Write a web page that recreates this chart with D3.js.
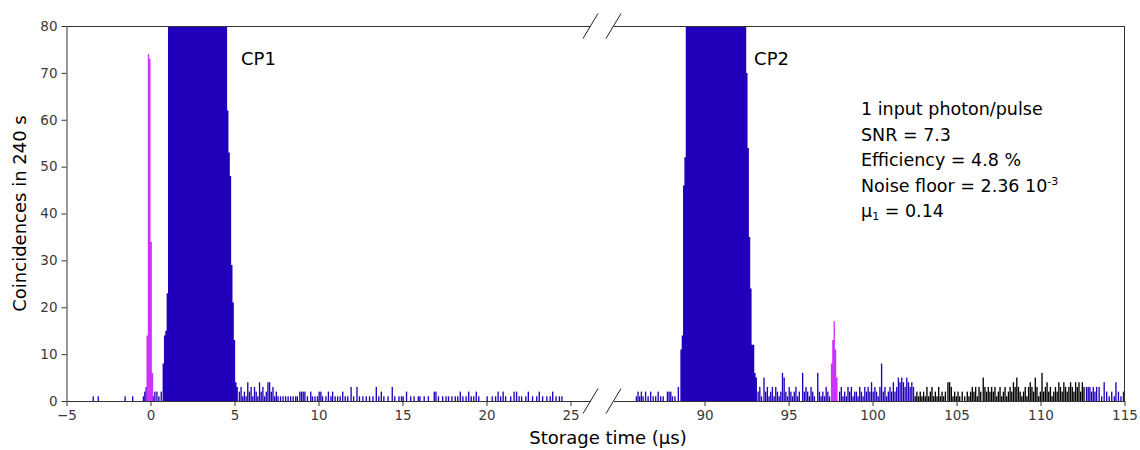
<!DOCTYPE html>
<html>
<head>
<script src="https://d3js.org/d3.v7.min.js"></script>
<style>
  body { margin: 0; background: #fff; }
  svg text { font-family: "DejaVu Sans", Verdana, sans-serif; }
  .axis text { font-size: 13.5px; fill: #3a3a3a; }
  .axis path, .axis line { stroke: #333; }
</style>
</head>
<body>
<div id="chart"></div>
<script>
// histogram bin width (μs)
const binWidth = 0.08;

// control pulse 1 (counts beyond 80 are clipped at the top of the plot)
const cp1Start = 0.72;
const cp1Counts = [8, 14, 15, 23,
  95, 130, 170, 210, 250, 290, 320, 350, 370, 390,
  400, 410, 415, 420, 420, 418, 415, 410, 405, 400,
  395, 390, 385, 380, 370, 360, 350, 340, 330, 315,
  300, 285, 270, 250, 230, 210, 190, 170, 150, 130,
  115, 100, 90, 84,
  62, 53, 48, 29, 21, 13, 4, 3];

// control pulse 2
const cp2Start = 88.56;
const cp2Counts = [11, 14, 46, 52,
  100, 140, 180, 220, 260, 290, 320, 340, 360, 375,
  385, 395, 400, 405, 410, 410, 408, 405, 400, 395,
  390, 385, 378, 370, 362, 352, 342, 330, 318, 305,
  290, 275, 258, 240, 222, 205, 188, 170, 152, 135,
  120, 107, 96, 88, 83,
  70, 54, 35, 24, 12, 12, 6, 5];

// input pulse (magenta) and retrieved echo
const inStart = -0.24;
const inCounts = [14, 74, 73, 34, 6];
const echoStart = 97.52;
const echoCounts = [8, 13, 17, 11, 5];

// isolated noise bins [time, counts], blue
const blueNoise = [
  [-3.45, 1], [-3.15, 1], [-1.55, 1], [-1.1, 1], [-0.46, 1], [-0.38, 2], [-0.3, 3], [-0.22, 2],
  [0.12, 1], [0.22, 2], [0.34, 2], [0.46, 1], [0.6, 2],
  [5.25, 2], [5.35, 3], [5.45, 1], [5.55, 2], [5.65, 1], [5.75, 4], [5.85, 2], [5.95, 3], [6.05, 1],
  [6.15, 3], [6.25, 2], [6.35, 1], [6.45, 4], [6.55, 2], [6.65, 3], [6.75, 1], [6.85, 2], [6.95, 4],
  [7.05, 4], [7.15, 2], [7.25, 3], [7.35, 1], [7.45, 2], [7.55, 1], [7.7, 1], [7.85, 1], [8.0, 1],
  [8.15, 1], [8.3, 1], [8.45, 1], [8.6, 1], [8.7, 1], [8.85, 2], [8.95, 2], [9.05, 2], [9.15, 2],
  [9.3, 1], [9.5, 2], [9.6, 1], [9.75, 1], [9.9, 1], [10.0, 2], [10.1, 2], [10.2, 1], [10.4, 1],
  [10.55, 2], [10.7, 1], [10.8, 2], [10.95, 1], [11.1, 1], [11.25, 1], [11.4, 2], [11.55, 1],
  [11.7, 1], [11.9, 3], [12.05, 1], [12.25, 3], [12.4, 1], [12.6, 1], [12.8, 1], [13.0, 1], [13.2, 1],
  [13.4, 3], [13.55, 1], [13.7, 2], [13.85, 1], [14.1, 1], [14.35, 3], [14.5, 1], [14.75, 1],
  [14.9, 1], [15.0, 1], [15.2, 2], [15.45, 1], [15.65, 1], [15.9, 1], [16.0, 1], [16.25, 1],
  [16.5, 1], [16.85, 2], [16.95, 2], [17.1, 1], [17.35, 1], [17.55, 1], [17.7, 1], [17.9, 1],
  [18.1, 1], [18.25, 1], [18.4, 2], [18.55, 1], [18.75, 1], [18.9, 2], [19.05, 1], [19.2, 1],
  [19.35, 2], [19.5, 1], [20.0, 1], [20.3, 1], [20.5, 1], [20.65, 2], [20.8, 1], [20.95, 2],
  [21.1, 1], [21.4, 1], [21.6, 2], [21.75, 2], [21.9, 1], [22.05, 1], [22.3, 1], [22.45, 2],
  [22.7, 1], [22.95, 1], [23.1, 2], [23.3, 1], [23.55, 1], [23.75, 1], [23.9, 2], [24.1, 1],
  [24.3, 1], [24.45, 1],
  [85.9, 1], [86.0, 2], [86.1, 1], [86.2, 2], [86.3, 1], [86.45, 2], [86.6, 1], [86.75, 2],
  [86.9, 1], [87.05, 1], [87.2, 2], [87.35, 1], [87.5, 1], [87.75, 2], [87.85, 2], [87.95, 2],
  [88.05, 1], [88.2, 1], [88.4, 3],
  [93.15, 2], [93.25, 3], [93.35, 1], [93.5, 5], [93.6, 2], [93.7, 3], [93.8, 1], [93.9, 2],
  [94.0, 3], [94.1, 1], [94.2, 3], [94.3, 2], [94.4, 1], [94.5, 2], [94.6, 6], [94.7, 5], [94.8, 2],
  [94.9, 1], [95.0, 3], [95.1, 2], [95.2, 1], [95.3, 2], [95.4, 3], [95.5, 1], [95.6, 2], [95.8, 6],
  [95.9, 2], [96.0, 3], [96.1, 2], [96.2, 1], [96.3, 3], [96.4, 2], [96.5, 1], [96.7, 6], [96.8, 2],
  [96.9, 1], [97.0, 2], [97.1, 1], [97.2, 3], [97.3, 2], [97.4, 1],
  [98.0, 2], [98.1, 3], [98.2, 1], [98.3, 2], [98.4, 1], [98.5, 3], [98.6, 2], [98.7, 3], [98.8, 1],
  [98.9, 2], [99.0, 2], [99.1, 1], [99.2, 3], [99.3, 2], [99.4, 1], [99.5, 3], [99.6, 2], [99.7, 3],
  [99.8, 2], [99.9, 4], [100.0, 2], [100.1, 3], [100.2, 2], [100.3, 1], [100.4, 3], [100.5, 8],
  [100.6, 2], [100.7, 3], [100.8, 1], [100.9, 2], [101.0, 3], [101.1, 2], [101.2, 4], [101.3, 2],
  [101.4, 3], [101.5, 5], [101.6, 4], [101.7, 5], [101.8, 4], [101.9, 3], [102.0, 5], [102.1, 4],
  [102.2, 3], [102.3, 4], [102.4, 3],
  [112.7, 3], [112.8, 3], [112.9, 3], [113.0, 2], [113.1, 3], [113.2, 2], [113.3, 3], [113.45, 3],
  [113.6, 1], [113.75, 4], [113.9, 2], [114.05, 1], [114.2, 2], [114.35, 1], [114.45, 4],
  [114.6, 2], [114.75, 1], [114.9, 2]
];

// noise bins drawn in black
const blackNoise = [
  [102.5, 1], [102.6, 2], [102.7, 1], [102.8, 2], [102.9, 1], [103.0, 2], [103.1, 1], [103.2, 3],
  [103.3, 1], [103.4, 2], [103.5, 3], [103.6, 1], [103.7, 2], [103.8, 1], [103.9, 3], [104.0, 1],
  [104.1, 2], [104.2, 1], [104.3, 2], [104.45, 4], [104.55, 4], [104.65, 3], [104.75, 1],
  [104.85, 2], [104.95, 1], [105.05, 2], [105.15, 1], [105.3, 2], [105.45, 1], [105.6, 2],
  [105.7, 1], [105.8, 2], [105.9, 3], [106.0, 2], [106.1, 3], [106.2, 1], [106.3, 3], [106.4, 2],
  [106.55, 5], [106.65, 3], [106.75, 2], [106.85, 3], [106.95, 2], [107.05, 3], [107.15, 2],
  [107.25, 3], [107.35, 1], [107.45, 2], [107.55, 3], [107.65, 1], [107.75, 2], [107.85, 3],
  [107.95, 1], [108.05, 2], [108.15, 3], [108.25, 2], [108.35, 4], [108.45, 3], [108.55, 5],
  [108.65, 3], [108.75, 2], [108.85, 1], [108.95, 2], [109.05, 3], [109.15, 1], [109.25, 3],
  [109.35, 4], [109.45, 3], [109.55, 2], [109.65, 5], [109.75, 3], [109.85, 1], [109.95, 2],
  [110.05, 6], [110.15, 2], [110.25, 3], [110.35, 4], [110.45, 2], [110.55, 3], [110.65, 1],
  [110.75, 2], [110.85, 3], [110.95, 2], [111.05, 4], [111.15, 3], [111.25, 2], [111.35, 4],
  [111.45, 3], [111.55, 2], [111.65, 3], [111.75, 4], [111.85, 3], [111.95, 2], [112.05, 4],
  [112.15, 3], [112.25, 4], [112.35, 2], [112.45, 4], [112.55, 3]
];

const yTicks = [0, 10, 20, 30, 40, 50, 60, 70, 80];
const xTicksLeft = [-5, 0, 5, 10, 15, 20, 25];
const xTicksRight = [90, 95, 100, 105, 110, 115];
const peakLabels = [{t: 5.39, text: 'CP1'}, {t: 92.95, text: 'CP2'}];

const blue = '#2200bb';
const magenta = '#cc33ff';

const w = 1140, h = 450;
const plotTop = 26, plotBottom = 401;

const svg = d3.select('#chart').append('svg')
    .attr('width', w).attr('height', h);

const xL = d3.scaleLinear().domain([-5, 26.19]).range([66.5, 590.5]);
const xR = d3.scaleLinear().domain([84.58, 115]).range([613.5, 1124.5]);
const y = d3.scaleLinear().domain([0, 80]).range([plotBottom, plotTop]);
const xOf = t => (t < 50 ? xL : xR)(t);

svg.append('clipPath').attr('id', 'plot')
   .append('rect').attr('x', 0).attr('y', plotTop).attr('width', w).attr('height', plotBottom - plotTop);

const bars = svg.append('g').attr('clip-path', 'url(#plot)');

// sparse bins as thin bars
function drawBins(rows, color) {
    bars.append('g').selectAll('rect')
        .data(rows)
        .enter()
        .append('rect')
        .attr('x', d => xOf(d[0]))
        .attr('y', d => y(d[1]))
        .attr('width', d => xOf(d[0] + binWidth) - xOf(d[0]))
        .attr('height', d => y(0) - y(d[1]))
        .style('fill', color);
}

// contiguous bins as one stepped area (no seams between bars)
const stepArea = d3.area()
    .x(d => xOf(d[0]))
    .y0(y(0))
    .y1(d => y(d[1]))
    .curve(d3.curveStepAfter);

function drawPeak(start, counts, color) {
    const rows = counts.map((c, i) => [start + i * binWidth, c]);
    rows.push([start + counts.length * binWidth, counts[counts.length - 1]]);
    bars.append('path').datum(rows).attr('d', stepArea).style('fill', color);
}

drawBins(blueNoise, blue);
drawBins(blackNoise, '#000');
drawPeak(cp1Start, cp1Counts, blue);
drawPeak(cp2Start, cp2Counts, blue);
drawPeak(inStart, inCounts, magenta);
drawPeak(echoStart, echoCounts, magenta);

// axes
svg.append('g').attr('class', 'axis')
    .attr('transform', 'translate(66.5,0)')
    .call(d3.axisLeft(y).tickValues(yTicks).tickSize(5).tickSizeOuter(0).tickPadding(4));

svg.append('g').attr('class', 'axis')
    .attr('transform', 'translate(0,' + plotBottom + ')')
    .call(d3.axisBottom(xL).tickValues(xTicksLeft).tickSize(5).tickSizeOuter(0)
        .tickFormat(d => d < 0 ? '\u2212' + Math.abs(d) : d).tickPadding(4));

svg.append('g').attr('class', 'axis')
    .attr('transform', 'translate(0,' + plotBottom + ')')
    .call(d3.axisBottom(xR).tickValues(xTicksRight).tickSize(5).tickSizeOuter(0).tickPadding(4));

// top and right spines
svg.append('line').attr('x1', xL.range()[0]).attr('x2', xL.range()[1])
   .attr('y1', plotTop + 0.5).attr('y2', plotTop + 0.5).attr('stroke', '#333');
svg.append('line').attr('x1', xR.range()[0]).attr('x2', xR.range()[1])
   .attr('y1', plotTop + 0.5).attr('y2', plotTop + 0.5).attr('stroke', '#333');
svg.append('line').attr('x1', 1124.5).attr('x2', 1124.5)
   .attr('y1', plotTop).attr('y2', plotBottom).attr('stroke', '#333');

// break marks
[xL.range()[1], xR.range()[0]].forEach(bx => {
    [plotTop, plotBottom].forEach(by => {
        svg.append('line')
           .attr('x1', bx - 7.5).attr('y1', by + 12.5)
           .attr('x2', bx + 7.5).attr('y2', by - 12.5)
           .attr('stroke', '#222').attr('stroke-width', 1);
    });
});

// axis titles
svg.append('text')
   .attr('transform', 'translate(26,' + ((plotTop + plotBottom) / 2) + ') rotate(-90)')
   .attr('text-anchor', 'middle')
   .style('font-size', '18px')
   .text('Coincidences in 240 s');

svg.append('text')
   .attr('x', 608).attr('y', 444)
   .attr('text-anchor', 'middle')
   .style('font-size', '18px')
   .text('Storage time (\u03bcs)');

// peak labels
svg.selectAll('.peak')
   .data(peakLabels)
   .enter()
   .append('text')
   .attr('class', 'peak')
   .attr('x', d => xOf(d.t))
   .attr('y', 65)
   .style('font-size', '18px')
   .text(d => d.text);

// annotation
const note = svg.append('text').attr('x', 861).attr('y', 115).style('font-size', '17.5px');
note.append('tspan').attr('x', 861).attr('dy', 0).text('1 input photon/pulse');
note.append('tspan').attr('x', 861).attr('dy', 25.5).text('SNR = 7.3');
note.append('tspan').attr('x', 861).attr('dy', 25.5).text('Efficiency = 4.8 %');
note.append('tspan').attr('x', 861).attr('dy', 25.5).text('Noise floor = 2.36 10');
note.append('tspan').attr('dy', -7).style('font-size', '11px').text('-3');
note.append('tspan').attr('x', 861).attr('dy', 32.5).text('\u03bc');
note.append('tspan').attr('dy', 3).style('font-size', '11px').text('1');
note.append('tspan').attr('dy', -3).text(' = 0.14');
</script>
</body>
</html>
